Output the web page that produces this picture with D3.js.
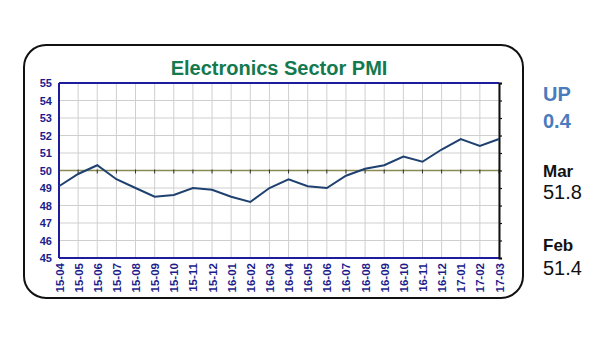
<!DOCTYPE html>
<html><head><meta charset="utf-8">
<script src="https://cdn.jsdelivr.net/npm/d3@7"></script>
<style>body{margin:0;background:#fff;} svg{display:block;}</style>
</head><body>
<svg id="c" width="600" height="360"></svg>
<script>
const months = ["15-04","15-05","15-06","15-07","15-08","15-09","15-10","15-11","15-12","16-01","16-02","16-03","16-04","16-05","16-06","16-07","16-08","16-09","16-10","16-11","16-12","17-01","17-02","17-03"];
const pmi = [49.1,49.8,50.3,49.5,49.0,48.5,48.6,49.0,48.9,48.5,48.2,49.0,49.5,49.1,49.0,49.7,50.1,50.3,50.8,50.5,51.2,51.8,51.4,51.8];
const yTicks = [45,46,47,48,49,50,51,52,53,54,55];
const title = "Electronics Sector PMI";
const sideTexts = [["UP","0.4"],["Mar","51.8"],["Feb","51.4"]];

const svg = d3.select("#c");
const m = {l:59, r:499, t:83, b:258};
const x = d3.scalePoint().domain(months).range([m.l, m.r]);
const y = d3.scaleLinear().domain([45,55]).range([m.b, m.t]);

svg.append("rect").attr("x",24).attr("y",45).attr("width",499).attr("height",253)
  .attr("rx",22).attr("ry",22).attr("fill","#fff").attr("stroke","#111").attr("stroke-width",2);

svg.append("text").attr("x",279).attr("y",75).attr("text-anchor","middle")
  .attr("font-family","Liberation Sans, Arial, sans-serif").attr("font-weight","bold")
  .attr("font-size",20).attr("fill","#137a4f").text(title);

// grid
const g = svg.append("g");
g.selectAll(".hg").data(yTicks).join("line")
  .attr("x1",m.l).attr("x2",m.r).attr("y1",d=>y(d)).attr("y2",d=>y(d))
  .attr("stroke","#cfcfcf").attr("stroke-width",1);
g.selectAll(".vg").data(months).join("line")
  .attr("x1",d=>x(d)).attr("x2",d=>x(d)).attr("y1",m.t).attr("y2",m.b)
  .attr("stroke","#cfcfcf").attr("stroke-width",1);

// 50 reference line with ticks
svg.append("line").attr("x1",m.l).attr("x2",m.r).attr("y1",y(50)).attr("y2",y(50))
  .attr("stroke","#8a8a55").attr("stroke-width",1.3);
svg.selectAll(".t50").data(months).join("line")
  .attr("x1",d=>x(d)).attr("x2",d=>x(d)).attr("y1",y(50)-1).attr("y2",y(50)+3)
  .attr("stroke","#333").attr("stroke-width",1);

// frame
svg.append("line").attr("x1",m.l).attr("x2",m.r).attr("y1",m.t).attr("y2",m.t).attr("stroke","#1c1c9c").attr("stroke-width",2);
svg.append("line").attr("x1",m.l).attr("x2",m.r).attr("y1",m.b).attr("y2",m.b).attr("stroke","#1c1c9c").attr("stroke-width",2);
svg.append("line").attr("x1",m.l).attr("x2",m.l).attr("y1",m.t).attr("y2",m.b).attr("stroke","#1c1c9c").attr("stroke-width",2);

// right axis
const ra = svg.append("g").attr("transform",`translate(${m.r},0)`)
  .call(d3.axisRight(y).tickValues(yTicks).tickSize(3).tickFormat(""));
ra.select(".domain").attr("stroke","#111").attr("stroke-width",2);
ra.selectAll(".tick line").attr("stroke","#111").attr("stroke-width",1.2);

// left labels
const la = svg.append("g").attr("transform",`translate(${m.l},0)`)
  .call(d3.axisLeft(y).tickValues(yTicks).tickSize(0).tickPadding(7).tickFormat(d3.format("d")));
la.select(".domain").remove();
la.selectAll("text").attr("font-family","Liberation Sans, Arial, sans-serif").attr("font-weight","bold")
  .attr("font-size",11).attr("fill","#1c1c8c");

// bottom labels
const ba = svg.append("g").attr("transform",`translate(0,${m.b})`)
  .call(d3.axisBottom(x).tickSize(0).tickPadding(0));
ba.select(".domain").remove();
ba.selectAll("text").attr("font-family","Liberation Sans, Arial, sans-serif").attr("font-weight","bold")
  .attr("font-size",11.5).attr("fill","#1c1c8c")
  .attr("transform","rotate(-90)").attr("text-anchor","end").attr("x",-5).attr("y",0).attr("dy","0.35em");

// line
svg.append("path").datum(pmi)
  .attr("d", d3.line().x((d,i)=>x(months[i])).y(d=>y(d)))
  .attr("fill","none").attr("stroke","#1f4170").attr("stroke-width",2);

// side texts
const sx = 543;
const st = svg.append("g").attr("font-family","Liberation Sans, Arial, sans-serif");
st.append("text").attr("x",sx).attr("y",101).attr("font-size",20).attr("font-weight","bold").attr("fill","#4a7bbd").text(sideTexts[0][0]);
st.append("text").attr("x",sx).attr("y",128).attr("font-size",20).attr("font-weight","bold").attr("fill","#4a7bbd").text(sideTexts[0][1]);
st.append("text").attr("x",sx).attr("y",177).attr("font-size",17).attr("font-weight","bold").attr("fill","#111").text(sideTexts[1][0]);
st.append("text").attr("x",sx).attr("y",199).attr("font-size",20).attr("fill","#111").text(sideTexts[1][1]);
st.append("text").attr("x",sx).attr("y",251).attr("font-size",17).attr("font-weight","bold").attr("fill","#111").text(sideTexts[2][0]);
st.append("text").attr("x",sx).attr("y",275).attr("font-size",20).attr("fill","#111").text(sideTexts[2][1]);
</script>
</body></html>
